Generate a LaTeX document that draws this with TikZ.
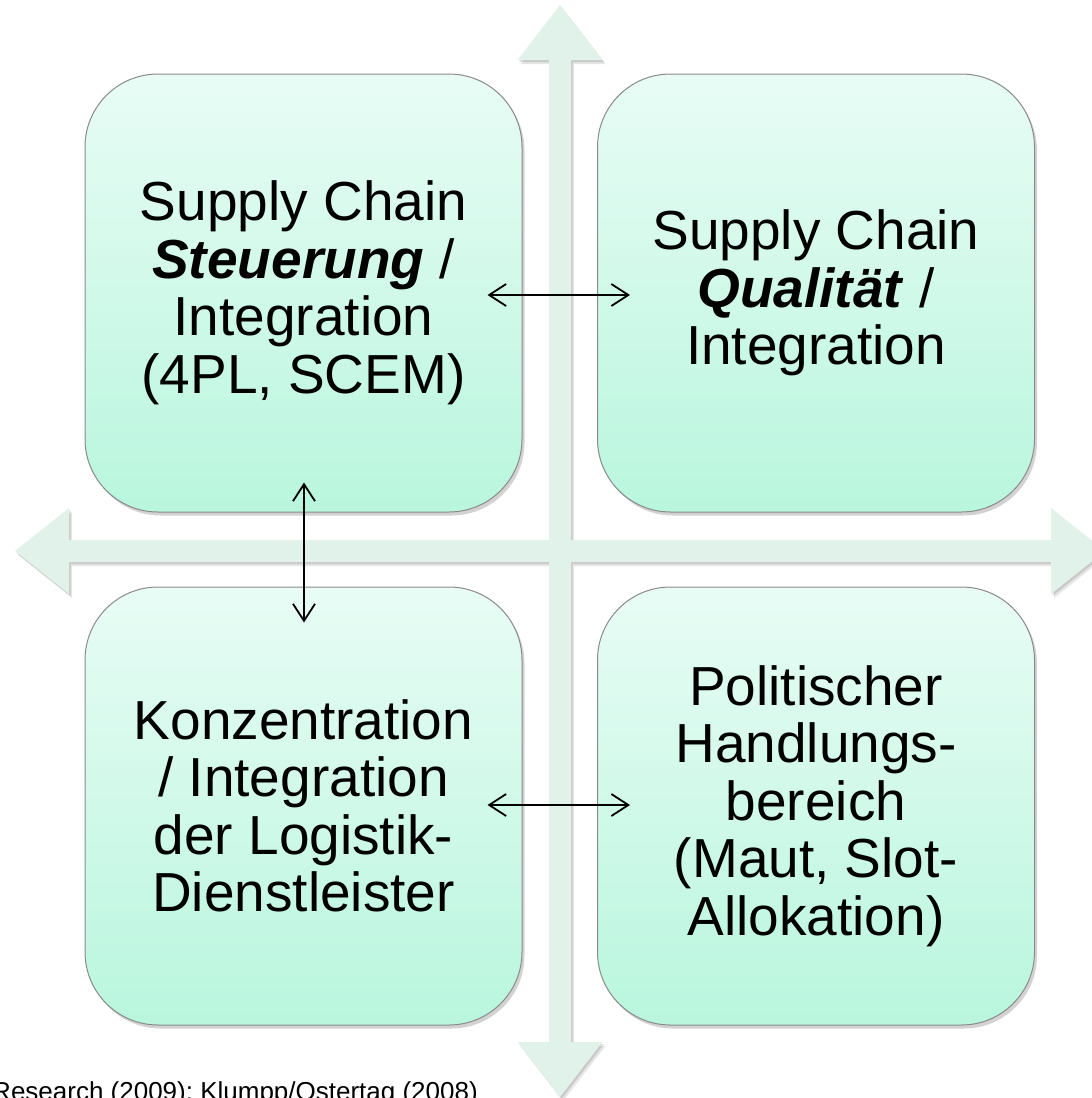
\documentclass[tikz,border=0pt]{standalone}
\usepackage{fontspec}
\setmainfont{Liberation Sans}
\usetikzlibrary{arrows.meta,shadows}
\definecolor{crossfill}{HTML}{E1F2EB}
\definecolor{boxtop}{HTML}{E8FCF5}
\definecolor{boxbot}{HTML}{B9F6DE}
\definecolor{boxline}{HTML}{8A8A8A}
\begin{document}
\begin{tikzpicture}[x=1pt,y=-1pt,
  quad/.style={draw=boxline, line width=1pt, rounded corners=73pt,
    top color=boxtop, bottom color=boxbot,
    minimum width=437pt, minimum height=438pt, inner sep=0pt,
    align=center, font=\fontsize{55}{57.5}\selectfont,
    drop shadow={shadow xshift=2.5pt, shadow yshift=-3.5pt, opacity=.25, fill=black!70}},
  link/.style={line width=1.8pt,
    {Straight Barb[length=17pt,width=22pt,line width=1.8pt]}-{Straight Barb[length=17pt,width=22pt,line width=1.8pt]}},
  ]
\useasboundingbox (0,0) rectangle (1092,1098);
% cross of broad arrows
\def\crosspath{(560,5) -- (602.5,60) -- (571,60) -- (571,540) -- (1051,540) -- (1051,508) -- (1105,551) -- (1051,594) -- (1051,562) -- (571,562) -- (571,1042) -- (602.5,1042) -- (560,1097) -- (517.5,1042) -- (549,1042) -- (549,562) -- (69,562) -- (69,594) -- (15,551) -- (69,508) -- (69,540) -- (549,540) -- (549,60) -- (517.5,60) -- cycle}
\fill[black, opacity=.10, xshift=3pt, yshift=-4pt] \crosspath;
\fill[black, opacity=.12, xshift=1.5pt, yshift=-2pt] \crosspath;
\fill[crossfill] \crosspath;
% quadrants
\node[quad] (A) at (303.5,293) {Supply Chain\\\textbf{\textit{Steuerung}} /\\Integration\\(4PL, SCEM)};
\node[quad] (B) at (816,293) {Supply Chain\\\textbf{\textit{Qualität}} /\\Integration};
\node[quad] (C) at (303.5,806) {Konzentration\\/ Integration\\der Logistik-\\Dienstleister};
\node[quad] (D) at (816,806) {Politischer\\Handlungs-\\bereich\\(Maut, Slot-\\Allokation)};
% connectors
\draw[link] ([xshift=-35pt,yshift=-2pt]A.east) -- ([xshift=33pt,yshift=-2pt]B.west);
\draw[link] ([xshift=0.5pt,yshift=30pt]A.south) -- ([xshift=0.5pt,yshift=-36pt]C.north);
\draw[link] ([xshift=-35pt,yshift=1pt]C.east) -- ([xshift=33pt,yshift=1pt]D.west);
% source line
\node[anchor=base east, inner sep=0pt, font=\fontsize{26}{30}\selectfont] (src) at (478,1100) {Research (2009); Klumpp/Ostertag (2008)};
\end{tikzpicture}
\end{document}
